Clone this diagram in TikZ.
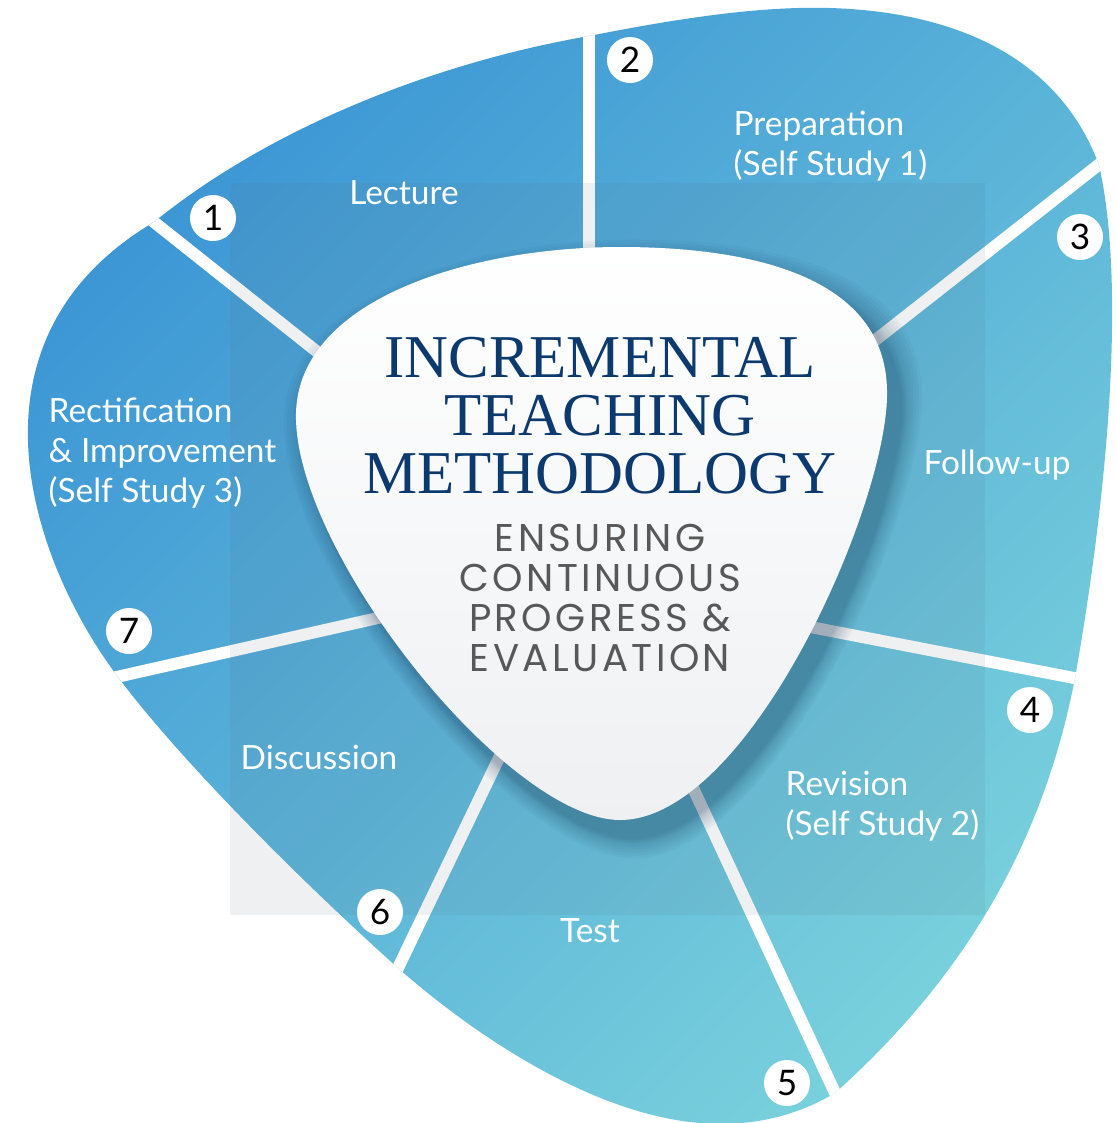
\documentclass[tikz,border=0pt]{standalone}
\usepackage{fontspec}
\setmainfont{Lato}
\newfontfamily\titlefont{Liberation Serif}
\newfontfamily\subfont{Poppins}[LetterSpace=9]
\definecolor{blobtop}{RGB}{58,148,212}
\definecolor{blobbot}{RGB}{120,208,220}
\definecolor{navy}{RGB}{12,58,110}
\definecolor{subgray}{RGB}{88,88,88}
\definecolor{rectgray}{RGB}{90,110,130}
\definecolor{shadowc}{RGB}{20,55,85}
\newcommand{\blobpath}{(589,36) .. controls (680,18) and (760,6) .. (830,8) .. controls (960,12) and (1060,60) .. (1099,165) .. controls (1125,280) and (1110,480) .. (1075,678) .. controls (1040,860) and (950,990) .. (835,1093) .. controls (790,1120) and (740,1128) .. (690,1122) .. controls (590,1110) and (480,1040) .. (398,968) .. controls (300,880) and (180,760) .. (118,677) .. controls (30,560) and (-45,340) .. (154,222) .. controls (280,120) and (450,60) .. (589,36) -- cycle}
\newcommand{\corepath}{(620,247) .. controls (760,247) and (885,280) .. (887,390) .. controls (890,500) and (750,820) .. (620,820) .. controls (510,820) and (300,560) .. (296,420) .. controls (292,300) and (470,247) .. (620,247) -- cycle}
\tikzset{
  num/.style={circle,fill=white,inner sep=0pt,minimum size=0.46cm,font=\fontsize{10}{10}\selectfont},
  lbl/.style={text=white,align=left,inner sep=0pt,font=\fontsize{9.5}{11.4}\selectfont},
  gap/.style={white,line width=3.4pt}
}
\begin{document}
\begin{tikzpicture}[x=0.01cm,y=-0.01cm]
\useasboundingbox (0,0) rectangle (1116,1123);
\shade[top color=blobtop,bottom color=blobbot,shading angle=45] \blobpath;
\begin{scope}
  \clip \blobpath;
  \foreach \x/\y/\u/\v in {589/0/589/260, 1120/148/850/360, 1100/683/800/625, 850/1125/680/760, 385/995/510/735, 90/683/400/613, 130/203/330/362}
    \draw[gap] (\x,\y)--(\u,\v);
\end{scope}
\fill[rectgray,opacity=.1] (230,183) rectangle (985,915);
% soft shadow round the core
\begin{scope}
  \clip \blobpath;
  \foreach \s in {1.08,1.07,1.06,1.05,1.04,1.03,1.025,1.02,1.015,1.01}
    \fill[shadowc,opacity=.04,shift={(12,16)},scale around={\s:(600,540)}] \corepath;
\end{scope}
\shade[top color=white,bottom color={rgb,255:red,238;green,240;blue,242}] \corepath;
\node[text=navy,align=center,font=\titlefont\fontsize{17.3}{16.5}\selectfont] (title) at (600,416) {INCREMENTAL\\TEACHING\\METHODOLOGY};
\node[text=subgray,align=center,font=\subfont\fontsize{11}{11.4}\selectfont] (sub) at (600,598) {ENSURING\\CONTINUOUS\\PROGRESS \&\\EVALUATION};
\foreach \x/\y/\a/\t [count=\i] in {404/193/center/Lecture, 733/146/west/{Preparation\\(Self Study 1)}, 997/465/center/Follow-up, 785/806/west/{Revision\\(Self Study 2)}, 590/931/center/Test, 319/757/center/Discussion, 48/453/west/{Rectification\\\& Improvement\\(Self Study 3)}}
  \node[lbl,anchor=\a] (l\i) at (\x,\y) {\t};
\foreach \x/\y [count=\i] in {213/218,630/60,1080/237,1030/710,787/1083,380/912,129/631}
  \node[num] (n\i) at (\x,\y) {\i};
\end{tikzpicture}
\end{document}
